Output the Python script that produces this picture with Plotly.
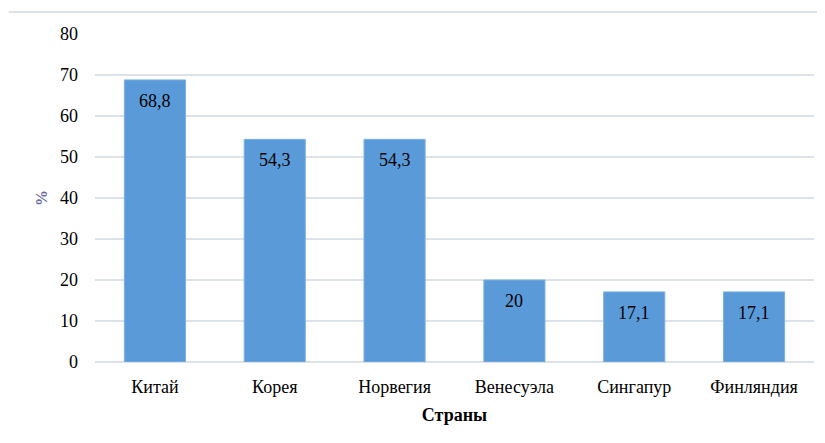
import plotly.graph_objects as go

countries = ["Китай", "Корея", "Норвегия", "Венесуэла", "Сингапур", "Финляндия"]
values = [68.8, 54.3, 54.3, 20, 17.1, 17.1]
labels = ["68,8", "54,3", "54,3", "20", "17,1", "17,1"]
y_ticks = [0, 10, 20, 30, 40, 50, 60, 70, 80]

FONT = "Liberation Serif, DejaVu Serif, Times New Roman, serif"

fig = go.Figure()
fig.add_trace(go.Bar(
    x=countries, y=values,
    width=0.51,
    marker=dict(color="#5a9ad8", line=dict(color="#7cb0e3", width=1)),
    hoverinfo="skip",
))

for c, v, t in zip(countries, values, labels):
    fig.add_annotation(x=c, y=v, text=t, showarrow=False, yshift=-21,
                       font=dict(family=FONT, size=18, color="#000000"))

fig.add_shape(type="line", xref="paper", yref="paper",
              x0=-0.12, x1=1.02, y0=1.067, y1=1.067,
              line=dict(color="#dde1e8", width=2))

fig.update_layout(
    width=817, height=435,
    margin=dict(l=87, r=11, t=26, b=81),
    paper_bgcolor="white", plot_bgcolor="white",
    font=dict(family=FONT, size=18, color="#000000"),
    showlegend=False,
    bargap=0.49,
    xaxis=dict(
        showgrid=False, showline=False, ticks="",
        ticklabelstandoff=12,
        tickfont=dict(family=FONT, size=18),
        title=dict(text="<b>Страны</b>", font=dict(family=FONT, size=18, color="#000000"), standoff=12),
    ),
    yaxis=dict(
        range=[0, 80], tickvals=y_ticks,
        showgrid=True, gridcolor="#dde1e8", gridwidth=2,
        zeroline=True, zerolinecolor="#dde1e8", zerolinewidth=2,
        showline=False, ticks="", ticklabelstandoff=16,
        tickfont=dict(family=FONT, size=18),
        title=dict(text="<b>%</b>", font=dict(family=FONT, size=16, color="#6a6aa8"), standoff=8),
    ),
)

fig.write_html("out.html")
